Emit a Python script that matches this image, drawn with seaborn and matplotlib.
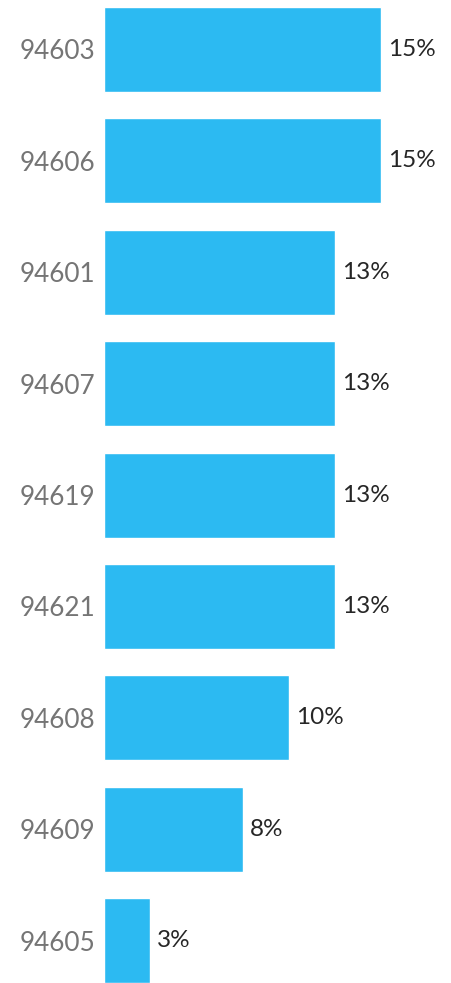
import numpy as np
import pandas as pd
import matplotlib
matplotlib.use("Agg")
import matplotlib.pyplot as plt
import seaborn as sns

# Share of responses by ZIP code
zip_codes = ["94603", "94606", "94601", "94607", "94619", "94621", "94608", "94609", "94605"]
counts = [6, 6, 5, 5, 5, 5, 4, 3, 1]

shares = [100.0 * c / sum(counts) for c in counts]
labels = [f"{int(np.floor(s + 0.5))}%" for s in shares]

df = pd.DataFrame({"zip": zip_codes, "share": shares})

sns.set_theme(style="white")
plt.rcParams["font.family"] = ["Lato", "DejaVu Sans"]

W, H = 451, 983
fig = plt.figure(figsize=(W / 100, H / 100), dpi=100)
ax = fig.add_axes([104 / W, 0, 1 - 104 / W, 1])

sns.barplot(data=df, x="share", y="zip", order=zip_codes, color="#2CBAF2",
            saturation=1, width=0.763, ax=ax)

ax.set_xlim(0, (W - 104) / 18.47)
ax.set_ylim(8.38, -0.444)

for i, (s, lab) in enumerate(zip(shares, labels)):
    ax.annotate(lab, (s, i), xytext=(5, 0), textcoords="offset points",
                va="center", ha="left", fontsize=17.5, color="#262626")

ax.set_xlabel("")
ax.set_ylabel("")
ax.set_xticks([])
ax.tick_params(axis="y", length=0, pad=6.5, labelsize=18.8, labelcolor="#757575")
sns.despine(ax=ax, left=True, bottom=True)

fig.savefig("out.png", dpi=100)
